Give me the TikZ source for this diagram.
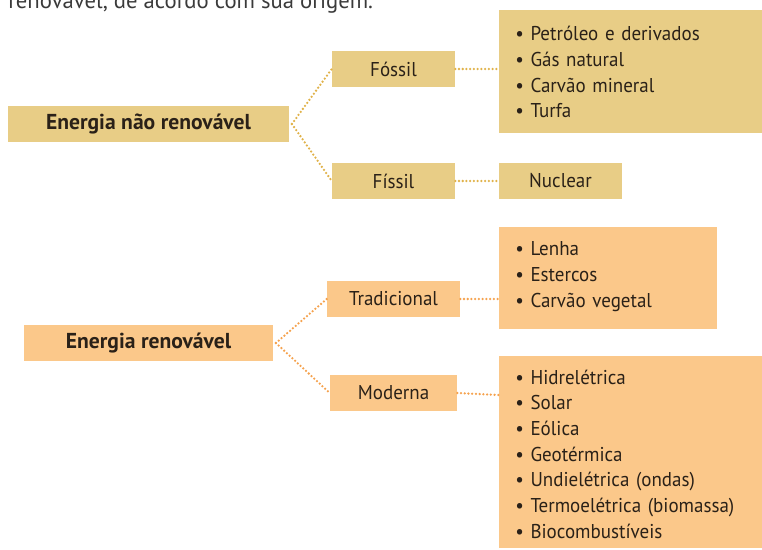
\documentclass[tikz,border=0pt]{standalone}
\usepackage{fontspec}
\setmainfont{PT Sans}
\newfontfamily\narrowfont{PT Sans}[FakeStretch=0.95]
\definecolor{khaki}{HTML}{E8CD86}
\definecolor{peach}{HTML}{FBC88A}
\definecolor{golddot}{HTML}{E0B24A}
\definecolor{orangedot}{HTML}{F5A24E}
\definecolor{ink}{HTML}{2A2118}
\definecolor{headink}{HTML}{3A3A3A}
\tikzset{
  boxbase/.style={inner sep=0pt, text=ink, font=\narrowfont\fontsize{15}{19.3}\selectfont},
  khakibox/.style={boxbase, fill=khaki},
  peachbox/.style={boxbase, fill=peach},
  listtext/.style={inner sep=0pt, text=ink, align=left, text width=240pt,
    font=\narrowfont\fontsize{15}{19.3}\selectfont, anchor=base west},
  mainlabel/.style={font=\fontsize{16.2}{19.3}\selectfont\bfseries},
  dotline/.style={line width=1.9pt, line cap=round, dash pattern=on 0pt off 2.8pt},
  golddots/.style={dotline, draw=golddot},
  orangedots/.style={dotline, draw=orangedot},
}
\begin{document}
\begin{tikzpicture}[x=0.75pt,y=-0.75pt]
\clip (0,0) rectangle (762,549);
% partial heading at the top
\node[inner sep=0pt, anchor=base west, text=headink, font=\fontsize{17}{20}\selectfont] (head) at (8,9) {renovável, de acordo com sua origem.};
% non-renewable
\node[khakibox, minimum width=210.75pt, minimum height=27pt, mainlabel] (nr) at (148.5,124) {Energia não renovável};
\node[khakibox, minimum width=92.25pt, minimum height=27pt] (fossil) at (393.5,69) {Fóssil};
\node[khakibox, minimum width=92.25pt, minimum height=27pt] (fissil) at (393.5,181) {Físsil};
\node[khakibox, minimum width=197.25pt, minimum height=92.25pt] (fl) at (630.5,71.5) {};
\node[listtext] (fltext) at (515,40.7) {\textbullet\ Petróleo e derivados\\ \textbullet\ Gás natural\\ \textbullet\ Carvão mineral\\ \textbullet\ Turfa};
\node[khakibox, minimum width=92.25pt, minimum height=27pt] (nuclear) at (560.5,181) {Nuclear};
% renewable
\node[peachbox, minimum width=186.75pt, minimum height=27pt, mainlabel] (r) at (148.5,343) {Energia renovável};
\node[peachbox, minimum width=99.75pt, minimum height=27pt] (trad) at (393.5,299) {Tradicional};
\node[peachbox, minimum width=95.25pt, minimum height=27pt] (mod) at (393.5,393) {Moderna};
\node[peachbox, minimum width=163.5pt, minimum height=76.5pt] (tl) at (608,278) {};
\node[listtext] (tltext) at (515,255.7) {\textbullet\ Lenha\\ \textbullet\ Estercos\\ \textbullet\ Carvão vegetal};
\node[peachbox, minimum width=197.25pt, minimum height=144pt] (ml) at (630.5,452) {};
\node[listtext] (mltext) at (515,384) {\textbullet\ Hidrelétrica\\ \textbullet\ Solar\\ \textbullet\ Eólica\\ \textbullet\ Geotérmica\\ \textbullet\ Undielétrica (ondas)\\ \textbullet\ Termoelétrica (biomassa)\\ \textbullet\ Biocombustíveis};
% connectors
\draw[golddots] ([xshift=2pt]nr.east) -- (fossil.west);
\draw[golddots] ([xshift=2pt]nr.east) -- (fissil.west);
\draw[golddots] (fossil.east) -- (fossil.east -| fl.west);
\draw[golddots] (fissil.east) -- (nuclear.west);
\draw[orangedots] ([xshift=2pt]r.east) -- (trad.west);
\draw[orangedots] ([xshift=2pt]r.east) -- (mod.west);
\draw[orangedots] (trad.east) -- (trad.east -| tl.west);
\draw[orangedots] (mod.east) -- ([yshift=-1.5pt]mod.east -| ml.west);
\end{tikzpicture}
\end{document}
